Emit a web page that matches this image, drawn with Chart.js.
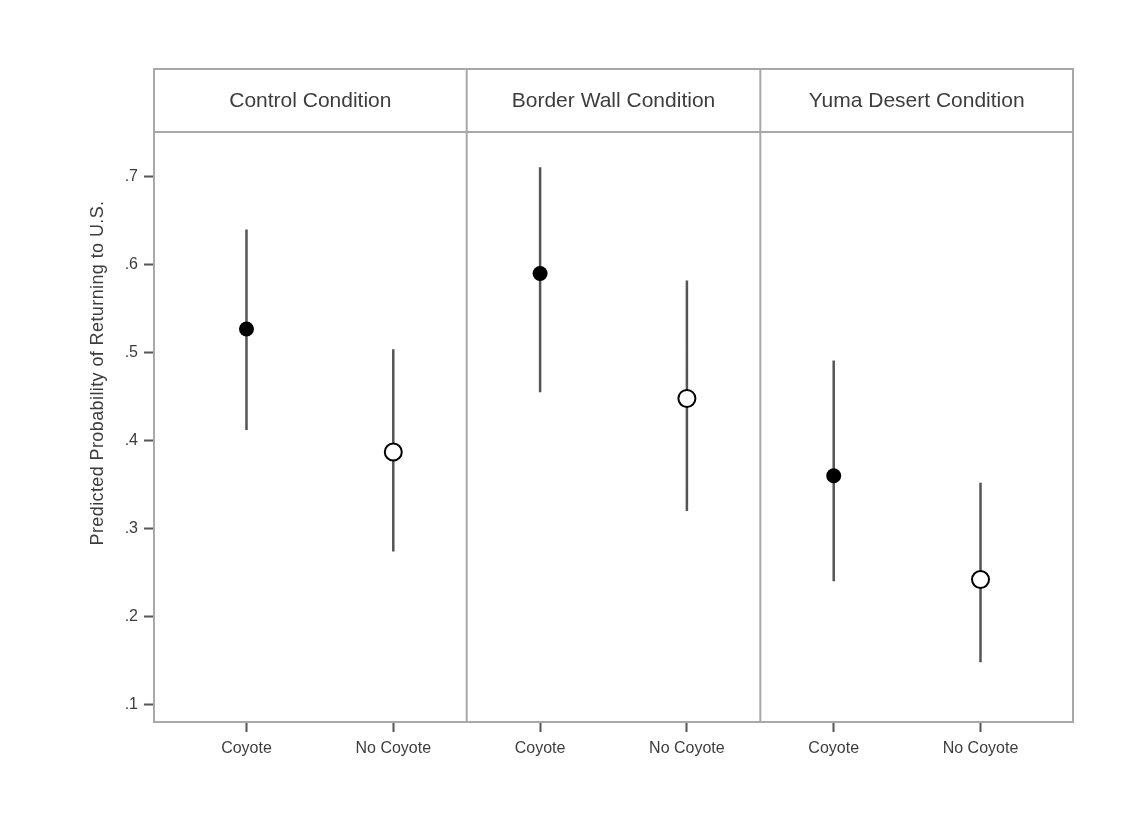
<!DOCTYPE html>
<html>
<head>
<meta charset="utf-8">
<script src="https://cdn.jsdelivr.net/npm/chart.js@4/dist/chart.umd.min.js"></script>
<style>
  html, body { margin: 0; padding: 0; background: #ffffff; }
  #wrap { width: 1133px; height: 827px; }
</style>
</head>
<body>
<div id="wrap"><canvas id="c" width="1133" height="827"></canvas></div>
<script>
// ---- Data ----
const panels = ['Control Condition', 'Border Wall Condition', 'Yuma Desert Condition'];
const categories = ['Coyote', 'No Coyote'];
const coyoteEst   = [0.527, 0.590, 0.360];
const coyoteLo    = [0.412, 0.455, 0.240];
const coyoteHi    = [0.640, 0.711, 0.491];
const noCoyoteEst = [0.387, 0.448, 0.242];
const noCoyoteLo  = [0.274, 0.320, 0.148];
const noCoyoteHi  = [0.504, 0.582, 0.352];
const yTicks      = [0.1, 0.2, 0.3, 0.4, 0.5, 0.6, 0.7];
const yTickLabels = ['.1', '.2', '.3', '.4', '.5', '.6', '.7'];
const yTitle = 'Predicted Probability of Returning to U.S.';

// positions on a linear x scale: panel p, category c -> 2p + c + 1
const xPos = (p, c) => 2 * p + c + 1;
const xTicks = [];
const xTickLabels = [];
panels.forEach((_, p) => categories.forEach((cat, c) => { xTicks.push(xPos(p, c)); xTickLabels.push(cat); }));

const coyotePts = coyoteEst.map((v, p) => ({ x: xPos(p, 0), y: v }));
const noCoyotePts = noCoyoteEst.map((v, p) => ({ x: xPos(p, 1), y: v }));
const errPts = [];
panels.forEach((_, p) => {
  errPts.push({ x: xPos(p, 0), y: coyoteLo[p] }, { x: xPos(p, 0), y: coyoteHi[p] }, { x: xPos(p, 0) + 0.5, y: null });
  errPts.push({ x: xPos(p, 1), y: noCoyoteLo[p] }, { x: xPos(p, 1), y: noCoyoteHi[p] }, { x: xPos(p, 1) + 0.5, y: null });
});

const FRAME = '#a8a8a8';
const TEXT = '#3d3d3d';
const HEADER_TOP = 69;

const framePlugin = {
  id: 'framePanels',
  afterDraw(chart) {
    const { ctx, chartArea: a, scales } = chart;
    const xs = scales.x;
    const dividers = [2.5, 4.5].map(v => xs.getPixelForValue(v));
    const edges = [a.left, ...dividers, a.right];
    ctx.save();
    ctx.strokeStyle = FRAME;
    ctx.lineWidth = 2;
    ctx.strokeRect(a.left, HEADER_TOP, a.right - a.left, a.bottom - HEADER_TOP);
    ctx.beginPath();
    ctx.moveTo(a.left, a.top); ctx.lineTo(a.right, a.top);
    dividers.forEach(x => { ctx.moveTo(x, HEADER_TOP); ctx.lineTo(x, a.bottom); });
    ctx.stroke();
    ctx.fillStyle = TEXT;
    ctx.font = '21px "Liberation Sans", Arial, sans-serif';
    ctx.textAlign = 'center';
    ctx.textBaseline = 'middle';
    panels.forEach((t, i) => {
      ctx.fillText(t, (edges[i] + edges[i + 1]) / 2, (HEADER_TOP + a.top) / 2 + 1);
    });
    ctx.translate(98, 373);
    ctx.rotate(-Math.PI / 2);
    ctx.font = '18px "Liberation Sans", Arial, sans-serif';
    try { ctx.letterSpacing = '0.4px'; } catch (e) {}
    ctx.fillText(yTitle, 0, 0);
    ctx.restore();
  }
};

new Chart(document.getElementById('c'), {
  type: 'scatter',
  data: {
    datasets: [
      {
        label: 'CI',
        data: errPts,
        showLine: true,
        spanGaps: false,
        borderColor: '#555555',
        borderWidth: 2.5,
        pointRadius: 0,
        order: 3
      },
      {
        label: 'Coyote',
        data: coyotePts,
        pointRadius: 7.5,
        pointBackgroundColor: '#000000',
        pointBorderColor: '#000000',
        pointBorderWidth: 0,
        order: 1
      },
      {
        label: 'No Coyote',
        data: noCoyotePts,
        pointRadius: 8.5,
        pointBackgroundColor: '#ffffff',
        pointBorderColor: '#000000',
        pointBorderWidth: 2,
        order: 2
      }
    ]
  },
  options: {
    responsive: false,
    animation: false,
    layout: { padding: { top: 132, right: 60, left: 0, bottom: 0 } },
    plugins: { legend: { display: false }, tooltip: { enabled: false } },
    scales: {
      x: {
        type: 'linear',
        min: 0.37,
        max: 6.63,
        afterBuildTicks: s => { s.ticks = xTicks.map(v => ({ value: v })); },
        afterFit: s => { s.height = 105; },
        ticks: {
          callback: (v) => { const i = xTicks.indexOf(v); return i >= 0 ? xTickLabels[i] : ''; },
          color: TEXT,
          font: { family: '"Liberation Sans", Arial, sans-serif', size: 16 },
          padding: 7,
          maxRotation: 0,
          autoSkip: false
        },
        grid: { drawOnChartArea: false, drawTicks: true, tickLength: 10, tickColor: '#555555', tickWidth: 2 },
        border: { display: true, color: FRAME, width: 2 }
      },
      y: {
        type: 'linear',
        min: 0.08,
        max: 0.751,
        afterBuildTicks: s => { s.ticks = yTicks.map(v => ({ value: v })); },
        afterFit: s => { s.width = 154; },
        ticks: {
          callback: (v) => { const i = yTicks.findIndex(t => Math.abs(t - v) < 1e-9); return i >= 0 ? yTickLabels[i] : ''; },
          color: TEXT,
          font: { family: '"Liberation Sans", Arial, sans-serif', size: 16 },
          padding: 6,
          autoSkip: false
        },
        grid: { drawOnChartArea: false, drawTicks: true, tickLength: 10, tickColor: '#555555', tickWidth: 2 },
        border: { display: true, color: FRAME, width: 2 }
      }
    }
  },
  plugins: [framePlugin]
});
</script>
</body>
</html>
